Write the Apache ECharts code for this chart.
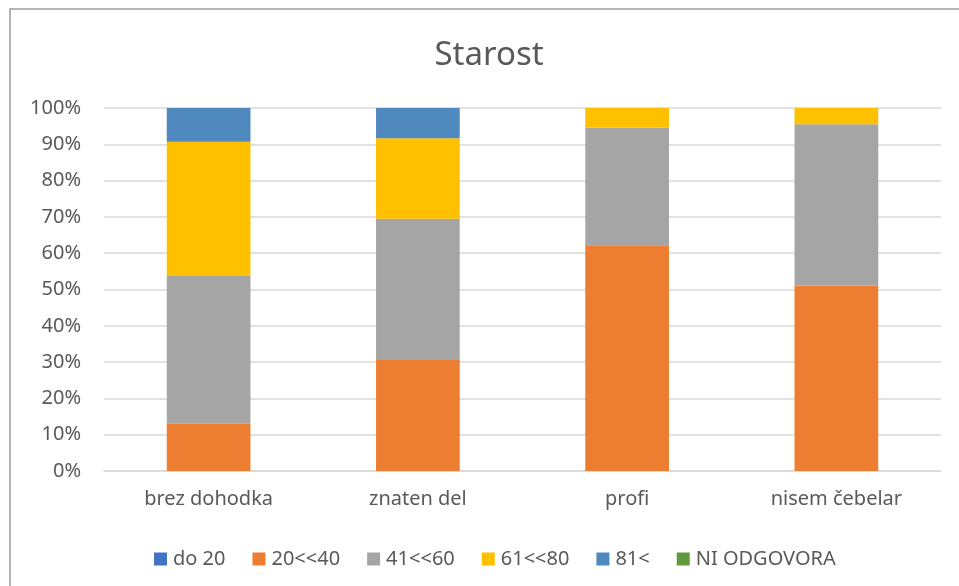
<!DOCTYPE html>
<html>
<head>
<meta charset="utf-8">
<title>Starost</title>
<script src="https://cdn.jsdelivr.net/npm/echarts@6/dist/echarts.min.js"></script>
<style>
  html, body { margin: 0; padding: 0; background: #ffffff; }
  #chart { width: 959px; height: 586px; }
</style>
</head>
<body>
<div id="chart"></div>
<script>
// Categories (income groups of beekeepers)
const categories = ['brez dohodka', 'znaten del', 'profi', 'nisem čebelar'];

// Share of each age group within a category, in percent
const do20       = [0, 0, 0, 0];
const age20to40  = [13.0, 30.6, 62.2, 51.1];
const age41to60  = [40.7, 38.9, 32.4, 44.4];
const age61to80  = [37.0, 22.2, 5.4, 4.5];
const age81plus  = [9.3, 8.3, 0, 0];
const niOdgovora = [0, 0, 0, 0];

const seriesNames = ['do 20', '20<<40', '41<<60', '61<<80', '81<', 'NI ODGOVORA'];
const seriesData  = [do20, age20to40, age41to60, age61to80, age81plus, niOdgovora];
const colors = ['#4472C4', '#ED7D31', '#A5A5A5', '#FFC000', '#4F89BD', '#62993E'];

const FONT = 'Noto Sans';
const TEXT = '#595959';

const chart = echarts.init(document.getElementById('chart'), null, { renderer: 'canvas' });

chart.setOption({
  animation: false,
  backgroundColor: '#ffffff',
  color: colors,
  title: {
    text: 'Starost',
    left: 484,
    top: 34,
    textAlign: 'center',
    textStyle: { fontFamily: FONT, fontSize: 33, fontWeight: 'normal', color: TEXT }
  },
  graphic: [{
    type: 'rect',
    silent: true,
    shape: { x: 10, y: 9, width: 1200, height: 1200 },
    style: { fill: 'none', stroke: '#9c9c9c', lineWidth: 1.5 }
  }],
  legend: {
    data: seriesNames,
    left: 149,
    top: 544,
    icon: 'rect',
    itemWidth: 13,
    itemHeight: 13,
    itemGap: 27,
    textStyle: { fontFamily: FONT, fontSize: 20, color: TEXT, padding: [0, 0, 0, 1] }
  },
  grid: { left: 104, right: 18, top: 108, bottom: 115, containLabel: false },
  xAxis: {
    type: 'category',
    data: categories,
    axisLine: { lineStyle: { color: '#d9d9d9', width: 1.5 } },
    axisTick: { show: false },
    axisLabel: { fontFamily: FONT, fontSize: 20, color: TEXT, margin: 18 }
  },
  yAxis: {
    type: 'value',
    min: 0,
    max: 100,
    interval: 10,
    axisLine: { show: false },
    axisTick: { show: false },
    splitLine: { lineStyle: { color: '#d9d9d9', width: 1.5 } },
    axisLabel: { fontFamily: FONT, fontSize: 20, color: TEXT, margin: 23, formatter: '{value}%' }
  },
  series: seriesNames.map((name, i) => ({
    name: name,
    type: 'bar',
    stack: 'total',
    barWidth: '40%',
    data: seriesData[i],
    itemStyle: { color: colors[i] }
  }))
});
</script>
</body>
</html>
